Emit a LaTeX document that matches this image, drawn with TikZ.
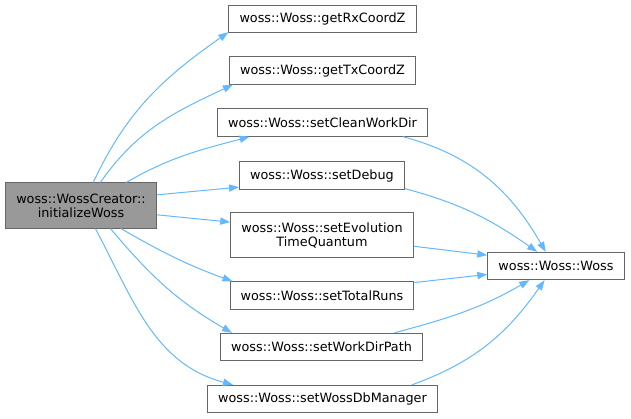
\documentclass[tikz,border=0pt]{standalone}
\usepackage{fontspec}
\setsansfont{DejaVu Sans}
\usetikzlibrary{arrows.meta}
\definecolor{edgeblue}{HTML}{63B8FF}
\definecolor{boxgray}{HTML}{666666}
\definecolor{srcgray}{HTML}{999999}
\begin{document}
\begin{tikzpicture}[x=0.75pt, y=0.75pt,
                    fn/.style = {draw=boxgray, fill=white, line width=0.75pt,
                                 font=\sffamily\fontsize{9.6}{10.5}\selectfont,
                                 align=center, inner xsep=8pt, inner ysep=0pt,
                                 minimum height=20.5pt},
                    arrow/.style = {draw=edgeblue, line width=0.75pt,
                                    -{Triangle[length=7.5pt, width=5.4pt]}}]
                    \useasboundingbox (0,0) rectangle (631,418);

                    % caller
                    \node [fn, fill=srcgray, minimum height=33.75pt] (init) at (81,212.5)
                          {woss::WossCreator::\\initializeWoss};

                    % called functions
                    \node [fn] (rx) at (322.5,399) {woss::Woss::getRxCoordZ};
                    \node [fn] (tx) at (322.5,347.5) {woss::Woss::getTxCoordZ};
                    \node [fn] (clean) at (322.5,295.5) {woss::Woss::setCleanWorkDir};
                    \node [fn] (debug) at (322,242.5) {woss::Woss::setDebug};
                    \node [fn, minimum height=33pt] (evol) at (322,183)
                          {woss::Woss::setEvolution\\TimeQuantum};
                    \node [fn] (runs) at (322,122.5) {woss::Woss::setTotalRuns};
                    \node [fn] (path) at (321.5,71) {woss::Woss::setWorkDirPath};
                    \node [fn] (dbman) at (322.5,19) {woss::Woss::setWossDbManager};

                    \node [fn] (ctor) at (556,152) {woss::Woss::Woss};

                    \draw[arrow] (init.62) to[out=65, in=215] (rx.-172);
                    \draw[arrow] (init.50) to[out=55, in=205] (tx.-171);
                    \draw[arrow] (init.27) to[out=30, in=195] (clean.-169);
                    \draw[arrow] (init.8) -- (debug.188);
                    \draw[arrow] (init.-7) -- (evol.172);
                    \draw[arrow] (init.-30) to[out=-30, in=160] (runs.171);
                    \draw[arrow] (init.-38) to[out=-50, in=150] (path.171);
                    \draw[arrow] (init.-58) to[out=-62, in=165] (dbman.171);

                    \draw[arrow] (clean.-10) to[out=-15, in=120] (ctor.126);
                    \draw[arrow] (debug.-9) to[out=-15, in=145] (ctor.143);
                    \draw[arrow] (evol.-7) -- (ctor.171);
                    \draw[arrow] (runs.8) -- (ctor.187);
                    \draw[arrow] (path.11) to[out=15, in=210] (ctor.208);
                    \draw[arrow] (dbman.9) to[out=20, in=235] (ctor.231);
\end{tikzpicture}
\end{document}
